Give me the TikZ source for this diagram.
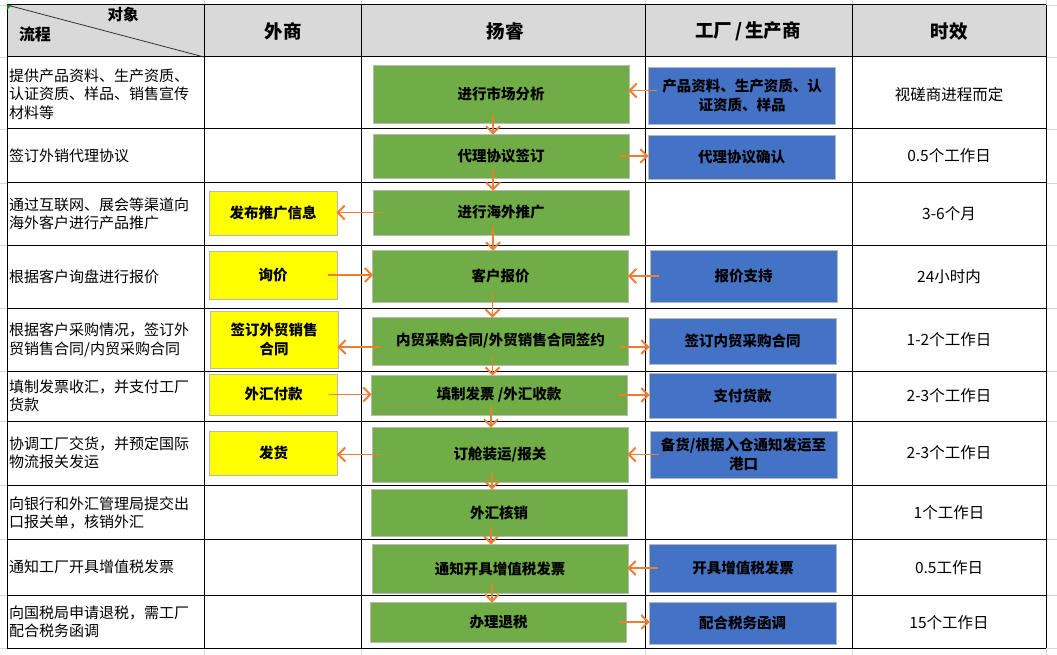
\documentclass[tikz,border=0pt]{standalone}
\usepackage{fontspec}
\setmainfont{Noto Sans CJK SC}
\usepackage{tikz}
\usetikzlibrary{positioning,calc,arrows.meta}
\definecolor{boxgreen}{HTML}{70AD47}
\definecolor{boxblue}{HTML}{4472C4}
\definecolor{boxyellow}{HTML}{FFFF00}
\definecolor{floworange}{HTML}{ED7D31}
\definecolor{headgray}{HTML}{D9D9D9}
\definecolor{gridgray}{HTML}{D6D6D6}
\tikzset{
  box/.style={draw=gray!55, line width=0.8pt, minimum height=#1, inner sep=2pt,
    align=center, font=\fontsize{14.5}{18.5}\selectfont\bfseries},
  greenbox/.style={box=#1, fill=boxgreen, minimum width=256pt},
  bluebox/.style={box=#1, fill=boxblue, minimum width=187pt},
  yellowbox/.style={box=#1, fill=boxyellow, minimum width=128pt},
  flowarrow/.style={draw=floworange, line width=1.9pt,
    -{Straight Barb[length=7pt,width=14pt]}, shorten <=-9pt, shorten >=-1pt},
  tableline/.style={line width=1pt, black},
  gridline/.style={line width=0.8pt, gridgray},
  celltext/.style={anchor=west, inner sep=0pt, align=left,
    font=\fontsize{15}{18.5}\selectfont},
  timetext/.style={inner sep=0pt, font=\fontsize{15.5}{18.5}\selectfont},
  headtext/.style={inner sep=0pt, font=\fontsize{18.5}{20}\selectfont\bfseries}
}

\begin{document}
\begin{tikzpicture}[x=1pt,y=-1pt]
  \useasboundingbox (0,0) rectangle (1057,655);
  % sheet grid
  \foreach \x in {204,361,645,852,1046}
    \draw[gridline] (\x,0) -- (\x,655);
  \foreach \y in {5,57,129,183,245,308,371,421,485,539,595,648}
    \draw[gridline] (0,\y) -- (1057,\y);
  % table
  \fill[white] (7,57) rectangle (1046,648);
  \fill[headgray] (7,5) rectangle (1046,57);
  \foreach \y in {5,57,129,183,245,308,371,421,485,539,595,648}
    \draw[tableline] (7,\y) -- (1046,\y);
  \foreach \x in {7,204,361,645,852,1046}
    \draw[tableline] (\x,5) -- (\x,648);
  \draw[line width=0.8pt, black!80] (7,5) -- (204,57);
  \fill[green!60!black] (7,5) -- (12,5) -- (7,10) -- cycle;

  % header
  \node[inner sep=0pt, font=\fontsize{15.5}{17}\selectfont\bfseries] (obj) at (123,15) {对象};
  \node[inner sep=0pt, font=\fontsize{16}{17}\selectfont\bfseries] (proc) at (35,34) {流程};
  \node[headtext] (hforeign) at (283,31) {外商};
  \node[headtext] (hyr) at (505,31) {扬睿};
  \node[headtext] (hfactory) at (748,31) {工厂\hspace{3pt}/\hspace{3pt}生产商};
  \node[headtext] (htime) at (949,31) {时效};

  % process column
  \node[celltext] (l1) at (9,94) {提供产品资料、生产资质、\\认证资质、样品、销售宣传\\材料等};
  \node[celltext] (l2) at (9,156) {签订外销代理协议};
  \node[celltext] (l3) at (9,214) {通过互联网、展会等渠道向\\海外客户进行产品推广};
  \node[celltext] (l4) at (9,277) {根据客户询盘进行报价};
  \node[celltext] (l5) at (9,340) {根据客户采购情况，签订外\\贸销售合同/内贸采购合同};
  \node[celltext] (l6) at (9,396) {填制发票收汇，并支付工厂\\货款};
  \node[celltext] (l7) at (9,453) {协调工厂交货，并预定国际\\物流报关发运};
  \node[celltext] (l8) at (9,513) {向银行和外汇管理局提交出\\口报关单，核销外汇};
  \node[celltext] (l9) at (9,567) {通知工厂开具增值税发票};
  \node[celltext] (l10) at (9,622) {向国税局申请退税，需工厂\\配合税务函调};

  % time column
  \node[timetext] (t1) at (949,95) {视磋商进程而定};
  \node[timetext] (t2) at (949,156) {0.5个工作日};
  \node[timetext] (t3) at (949,214) {3-6个月};
  \node[timetext] (t4) at (949,277) {24小时内};
  \node[timetext] (t5) at (949,340) {1-2个工作日};
  \node[timetext] (t6) at (949,396) {2-3个工作日};
  \node[timetext] (t7) at (949,453) {2-3个工作日};
  \node[timetext] (t8) at (949,513) {1个工作日};
  \node[timetext] (t9) at (949,568) {0.5工作日};
  \node[timetext] (t10) at (949,623) {15个工作日};

  % Yangrui
  \node[greenbox=58pt] (g1) at (501,94) {进行市场分析};
  \node[greenbox=44pt] (g2) at (501,156) {代理协议签订};
  \node[greenbox=45pt] (g3) at (501,212.5) {进行海外推广};
  \node[greenbox=52pt] (g4) at (500.5,276) {客户报价};
  \node[greenbox=48pt] (g5) at (500.5,341) {内贸采购合同/外贸销售合同签约};
  \node[greenbox=40pt] (g6) at (499,395) {填制发票 /外汇收款};
  \node[greenbox=55pt] (g7) at (500,454.5) {订舱装运/报关};
  \node[greenbox=47pt] (g8) at (499,512.5) {外汇核销};
  \node[greenbox=49pt] (g9) at (500,568.5) {通知开具增值税发票};
  \node[greenbox=40pt] (g10) at (498.5,622) {办理退税};

  % foreign buyer
  \node[yellowbox=44pt] (y3) at (273,213) {发布推广信息};
  \node[yellowbox=48pt] (y4) at (273,275) {询价};
  \node[yellowbox=57pt] (y5) at (274,339.5) {签订外贸销售\\合同};
  \node[yellowbox=41pt] (y6) at (273.5,394.5) {外汇付款};
  \node[yellowbox=44pt] (y7) at (273.5,453) {发货};

  % factory
  \node[bluebox=57pt] (b1) at (742,95.5) {产品资料、生产资质、认\\证资质、样品};
  \node[bluebox=44pt] (b2) at (741.5,157) {代理协议确认};
  \node[bluebox=52pt] (b4) at (743.5,276) {报价支持};
  \node[bluebox=46pt] (b5) at (742.5,341) {签订内贸采购合同};
  \node[bluebox=45pt] (b6) at (742.5,395.5) {支付货款};
  \node[bluebox=47pt] (b7) at (743.5,454.5) {备货/根据入仓通知发运至\\港口};
  \node[bluebox=48pt] (b9) at (743,568) {开具增值税发票};
  \node[bluebox=42pt] (b10) at (742.5,623) {配合税务函调};

  % flow down
  \foreach \i [evaluate=\i as \j using int(\i+1)] in {1,...,9}
    \draw[flowarrow] ([xshift=-8pt]g\i.south) -- ([xshift=-8pt]g\i.south |- g\j.north);

  % flow across
  \draw[flowarrow] ([yshift=5pt]b1.west) -- ([yshift=5pt]b1.west -| g1.east);
  \draw[flowarrow] (g2.east) -- (g2.east -| b2.west);
  \draw[flowarrow] (g3.west) -- (g3.west -| y3.east);
  \draw[flowarrow] (y4.east) -- (y4.east -| g4.west);
  \draw[flowarrow] (b4.west) -- (b4.west -| g4.east);
  \draw[flowarrow] ([yshift=-6pt]g5.west) -- ([yshift=-6pt]g5.west -| y5.east);
  \draw[flowarrow] ([yshift=-6pt]g5.east) -- ([yshift=-6pt]g5.east -| b5.west);
  \draw[flowarrow] (y6.east) -- (y6.east -| g6.west);
  \draw[flowarrow] (g6.east) -- (g6.east -| b6.west);
  \draw[flowarrow] (g7.west) -- (g7.west -| y7.east);
  \draw[flowarrow] (b7.west) -- (b7.west -| g7.east);
  \draw[flowarrow] (b9.west) -- (b9.west -| g9.east);
  \draw[flowarrow] (g10.east) -- (g10.east -| b10.west);
\end{tikzpicture}
\end{document}
